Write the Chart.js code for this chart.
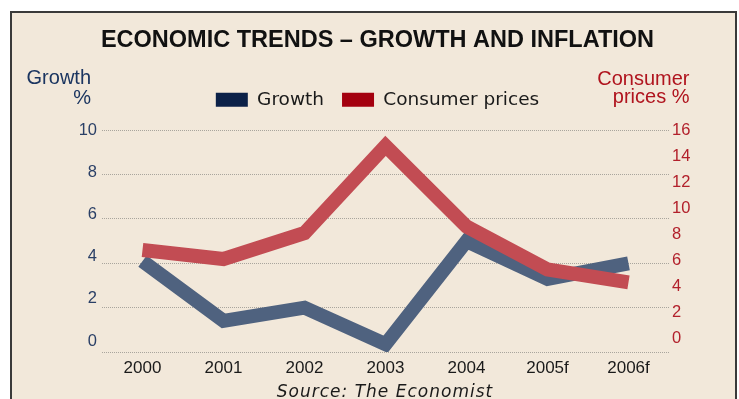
<!DOCTYPE html>
<html>
<head>
<meta charset="utf-8">
<script src="https://cdn.jsdelivr.net/npm/chart.js@4/dist/chart.umd.min.js"></script>
<style>
  html, body { margin: 0; padding: 0; background: #ffffff; overflow: hidden; }
  #frame { position: absolute; left: 10px; top: 11px; width: 723px; height: 420px;
           border: 2px solid #3a3a3a; background: #F2E8DA; box-sizing: content-box; }
  #wrap { position: absolute; left: 0; top: 0; width: 739px; height: 399px; }
</style>
</head>
<body>
<div id="frame"></div>
<div id="wrap"><canvas id="c" width="739" height="399"></canvas></div>
<script>
const categories = ['2000', '2001', '2002', '2003', '2004', '2005f', '2006f'];
const growth = [4.1, 1.4, 2.0, 0.35, 5.0, 3.3, 4.0];
const consumerPrices = [6.8, 6.1, 8.1, 14.8, 8.6, 5.3, 4.3];
const growthTicks = [0, 2, 4, 6, 8, 10];
const priceTicks = [0, 2, 4, 6, 8, 10, 12, 14, 16];
const titleText = 'ECONOMIC TRENDS \u2013 GROWTH AND INFLATION';
const leftAxisTitle = ['Growth', '%'];
const rightAxisTitle = ['Consumer', 'prices %'];
const sourceText = 'Source: The Economist';

const NAVY = '#1B3560';
const RED = '#B0141E';

const textPlugin = {
  id: 'extraText',
  afterDraw(chart) {
    const ctx = chart.ctx;
    ctx.save();
    ctx.textBaseline = 'alphabetic';
    ctx.font = '20px "Liberation Sans", Arial, sans-serif';
    ctx.textAlign = 'right';
    ctx.fillStyle = NAVY;
    ctx.fillText(leftAxisTitle[0], 91, 84);
    ctx.fillText(leftAxisTitle[1], 91, 104);
    ctx.fillStyle = RED;
    ctx.fillText(rightAxisTitle[0], 689.5, 85);
    ctx.fillText(rightAxisTitle[1], 689.5, 102.5);
    ctx.font = 'italic 17px "DejaVu Sans", sans-serif';
    ctx.textAlign = 'center';
    ctx.fillStyle = '#1a1a1a';
    try { ctx.letterSpacing = '1px'; } catch (e) {}
    ctx.fillText(sourceText, 385, 396.5);
    ctx.restore();
  }
};

new Chart(document.getElementById('c'), {
  type: 'line',
  data: {
    labels: categories,
    datasets: [
      {
        label: 'Growth',
        data: growth,
        yAxisID: 'y',
        borderColor: '#4F627F',
        backgroundColor: '#0C2148',
        borderWidth: 14,
        borderJoinStyle: 'miter',
        borderCapStyle: 'butt',
        pointRadius: 0,
        tension: 0,
        fill: false,
        order: 2
      },
      {
        label: 'Consumer prices',
        data: consumerPrices,
        yAxisID: 'y2',
        borderColor: '#C24C53',
        backgroundColor: '#A4000F',
        borderWidth: 14,
        borderJoinStyle: 'miter',
        borderCapStyle: 'butt',
        pointRadius: 0,
        tension: 0,
        fill: false,
        order: 1
      }
    ]
  },
  options: {
    responsive: false,
    animation: false,
    events: [],
    layout: { padding: { left: 16, right: 0, top: 26, bottom: 0 } },
    plugins: {
      title: {
        display: true,
        text: titleText,
        color: '#111111',
        font: { family: '"Liberation Sans", Arial, sans-serif', size: 23.5, weight: 'bold', lineHeight: 1.2 },
        padding: { top: 0, bottom: 18.3 }
      },
      legend: {
        display: true,
        position: 'top',
        align: 'center',
        labels: {
          boxWidth: 32,
          boxHeight: 14,
          padding: 18,
          color: '#1a1a1a',
          font: { family: '"DejaVu Sans", sans-serif', size: 18.5 },
          generateLabels(chart) {
            return chart.data.datasets.map((ds, i) => ({
              text: ds.label,
              fillStyle: ds.backgroundColor,
              strokeStyle: ds.backgroundColor,
              lineWidth: 0,
              hidden: false,
              datasetIndex: i,
              fontColor: '#1a1a1a'
            }));
          }
        }
      },
      tooltip: { enabled: false }
    },
    scales: {
      x: {
        type: 'category',
        position: 'bottom',
        offset: true,
        grid: { display: false, drawTicks: false },
        border: { display: false },
        ticks: {
          color: '#1a1a1a',
          padding: 6,
          font: { family: '"Liberation Sans", Arial, sans-serif', size: 17 }
        },
        afterFit(s) { s.height = 47; }
      },
      xTop: {
        type: 'category',
        position: 'top',
        labels: categories,
        grid: { display: false, drawTicks: false },
        border: { display: false },
        ticks: { display: false },
        afterFit(s) { s.height = 11.3; }
      },
      y: {
        position: 'left',
        min: 0,
        max: 10,
        afterBuildTicks(s) { s.ticks = growthTicks.map(v => ({ value: v })); },
        grid: { display: true, color: '#a9a59d', lineWidth: 1, drawTicks: false },
        border: { display: false, dash: [1, 1] },
        ticks: { display: false },
        afterFit(s) { s.width = 0; }
      },
      yl: {
        position: 'left',
        min: -0.52,
        max: 10,
        afterBuildTicks(s) { s.ticks = growthTicks.map(v => ({ value: v })); },
        grid: { display: false, drawTicks: false },
        border: { display: false },
        ticks: {
          color: '#2A3F66',
          padding: 5,
          font: { family: '"Liberation Sans", Arial, sans-serif', size: 16.5 }
        },
        afterFit(s) { s.width = 86; }
      },
      y2: {
        position: 'right',
        min: -1.05,
        max: 16,
        afterBuildTicks(s) { s.ticks = priceTicks.map(v => ({ value: v })); },
        grid: { display: false, drawTicks: false },
        border: { display: false },
        ticks: {
          color: '#B2202B',
          padding: 3,
          font: { family: '"Liberation Sans", Arial, sans-serif', size: 16.5 }
        },
        afterFit(s) { s.width = 70; }
      }
    }
  },
  plugins: [textPlugin]
});
</script>
</body>
</html>
